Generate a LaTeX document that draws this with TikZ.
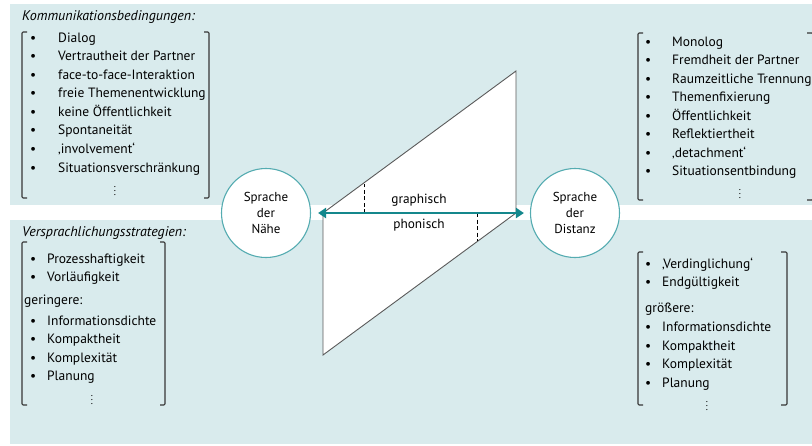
\documentclass[tikz,border=0pt]{standalone}
\usepackage{fontspec}
\setmainfont{PT Sans}
\usetikzlibrary{arrows.meta}
\definecolor{panelbg}{RGB}{217,235,237}
\definecolor{arrowteal}{RGB}{20,135,140}
\definecolor{ringteal}{RGB}{85,172,177}
\definecolor{linegray}{RGB}{55,55,55}
\definecolor{shapegray}{RGB}{90,90,90}
\begin{document}
\begin{tikzpicture}[x=1pt,y=-1pt,
  panel/.style={fill=panelbg,draw=none},
  item/.style={anchor=west,inner sep=0pt,text height=9pt,text depth=3pt,font=\fontsize{13.5}{15}\selectfont},
  head/.style={item,font=\fontsize{14}{15}\selectfont\itshape},
  dots/.style={inner sep=0pt,font=\fontsize{10}{10}\selectfont},
  brk/.style={draw=linegray,line width=1.1pt,rounded corners=1.2pt},
  ring/.style={circle,draw=ringteal,line width=1.1pt,fill=white,minimum size=89pt,inner sep=0pt,align=center,font=\fontsize{13}{16}\selectfont},
  plane/.style={fill=white,draw=shapegray,line width=0.9pt,line join=miter},
  guide/.style={draw=black,line width=0.8pt,dash pattern=on 4pt off 2.5pt},
  axis/.style={draw=arrowteal,line width=2.6pt,{Triangle[length=8pt,width=10pt]}-{Triangle[length=8pt,width=10pt]},shorten <=7pt,shorten >=6pt},
  lab/.style={inner sep=0pt,font=\fontsize{13.3}{15}\selectfont}]
\useasboundingbox (0,0) rectangle (812,445);
\clip (0,0) rectangle (812,445);
% panels
\fill[panel] (10,4) rectangle (812,205);
\fill[panel] (10,220) rectangle (812,444);

% headings
\node[head] (hk) at (22,17) {Kommunikationsbedingungen:};
\node[head] (hv) at (22,233) {Versprachlichungsstrategien:};

% top-left list
\foreach \t/\yy [count=\i] in {Dialog/39,Vertrautheit der Partner/57.5,face-to-face-Interaktion/76,freie Themenentwicklung/94.5,keine Öffentlichkeit/113,Spontaneität/131.5,‚involvement‘/150,Situationsverschränkung/169}{
  \node[item] (tlb\i) at (30,\yy) {•};
  \node[item] (tl\i) at (58,\yy) {\t};
}
\node[dots] (tld) at (115,188) {$\vdots$};
\draw[brk] (27,32) -- (22,32) -- (22,198) -- (27,198);
\draw[brk] (204,32) -- (209,32) -- (209,198) -- (204,198);

% top-right list
\foreach \t/\yy [count=\i] in {Monolog/43,Fremdheit der Partner/61.5,Raumzeitliche Trennung/80,Themenfixierung/98.5,Öffentlichkeit/117,Reflektiertheit/135.5,‚detachment‘/154,Situationsentbindung/172.5}{
  \node[item] (trb\i) at (645,\yy) {•};
  \node[item] (tr\i) at (672,\yy) {\t};
}
\node[dots] (trd) at (740,191) {$\vdots$};
\draw[brk] (643,33) -- (638,33) -- (638,200) -- (643,200);
\draw[brk] (807,33) -- (813,33) -- (813,200) -- (807,200);

% bottom-left list
\foreach \t/\yy [count=\i] in {Prozesshaftigkeit/260,Vorläufigkeit/278.5}{
  \node[item] (blb\i) at (30,\yy) {•};
  \node[item] (bl\i) at (47,\yy) {\t};
}
\node[item] (blg) at (24,301) {geringere:};
\foreach \t/\yy [count=\i] in {Informationsdichte/322,Kompaktheit/340.5,Komplexität/359,Planung/377.5}{
  \node[item] (blcb\i) at (30,\yy) {•};
  \node[item] (blc\i) at (47,\yy) {\t};
}
\node[dots] (bld) at (92,397) {$\vdots$};
\draw[brk] (27,242) -- (22,242) -- (22,405) -- (27,405);
\draw[brk] (160,242) -- (165,242) -- (165,405) -- (160,405);

% bottom-right list
\foreach \t/\yy [count=\i] in {‚Verdinglichung‘/265,Endgültigkeit/283.5}{
  \node[item] (brb\i) at (645,\yy) {•};
  \node[item] (br\i) at (662,\yy) {\t};
}
\node[item] (brg) at (645,309) {größere:};
\foreach \t/\yy [count=\i] in {Informationsdichte/328,Kompaktheit/347,Komplexität/365.5,Planung/384}{
  \node[item] (brcb\i) at (645,\yy) {•};
  \node[item] (brc\i) at (662,\yy) {\t};
}
\node[dots] (brd) at (707,403) {$\vdots$};
\draw[brk] (643,252) -- (638,252) -- (638,405) -- (643,405);
\draw[brk] (781,252) -- (787,252) -- (787,405) -- (781,405);

% plane
\coordinate (pL) at (323,213);
\coordinate (pT) at (516,71);
\coordinate (pR) at (516,213);
\coordinate (pB) at (323,355);
\draw[plane] (pL) -- (pT) -- (pR) -- (pB) -- cycle;
\draw[plane] (pL) -- (pR);
\coordinate (g1) at (364,213);
\coordinate (g2) at (364,184);
\coordinate (h1) at (477,213);
\coordinate (h2) at (477,241);
\draw[guide] (g1) -- (g2);
\draw[guide] (h1) -- (h2);
\node[lab] (gr) at (419,200) {graphisch};
\node[lab] (ph) at (419,225) {phonisch};

% circles and axis
\node[ring] (nahe) at (266,213) {Sprache\\der\\Nähe};
\node[ring] (distanz) at (575,213) {Sprache\\der\\Distanz};
\draw[axis] (nahe) -- (distanz);
\end{tikzpicture}
\end{document}
